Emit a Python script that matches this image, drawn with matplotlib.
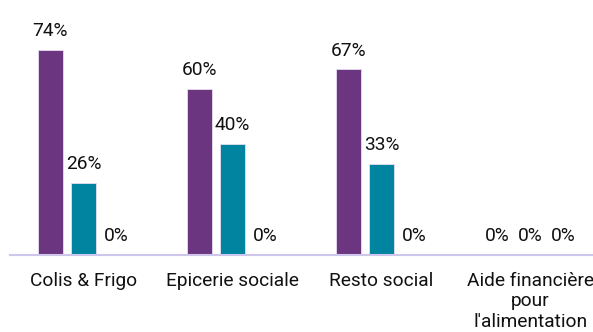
import matplotlib.pyplot as plt
import numpy as np

categories = ["Colis & Frigo", "Epicerie sociale", "Resto social", "Aide financière\npour\nl'alimentation"]
serie1 = [74, 60, 67, 0]
serie2 = [26, 40, 33, 0]
serie3 = [0, 0, 0, 0]

plt.rcParams['font.family'] = ['Roboto', 'DejaVu Sans']

W, H = 593, 332
fig = plt.figure(figsize=(W / 100, H / 100), dpi=100)
ax = fig.add_axes([10 / W, 77 / H, 583 / W, 255 / H])

x = np.arange(len(categories))
step = 0.2215
width = 0.168
colors = ["#6c3580", "#00849f", "#9e9e9e"]

for k, (vals, col) in enumerate(zip([serie1, serie2, serie3], colors)):
    pos = x + (k - 1) * step
    bars = ax.bar(pos, vals, width, color=col, edgecolor="#e6def0", linewidth=0.6)
    for p, v in zip(pos, vals):
        ax.annotate(f"{v}%", (p, v), xytext=(0, 7), textcoords="offset points",
                    ha="center", va="bottom", fontsize=13.8, color="#111111")

ax.set_xlim(-0.493, -0.493 + 583 / 149)
ax.set_ylim(0, 92)
ax.set_yticks([])
ax.set_xticks(x)
ax.set_xticklabels(categories, fontsize=13.8, color="#111111", linespacing=1.2)
ax.tick_params(axis="x", length=0, pad=12)
for s in ["top", "right", "left"]:
    ax.spines[s].set_visible(False)
ax.spines["bottom"].set_color("#cfc6ec")
ax.spines["bottom"].set_linewidth(1.5)

fig.savefig("out.png", dpi=100)
